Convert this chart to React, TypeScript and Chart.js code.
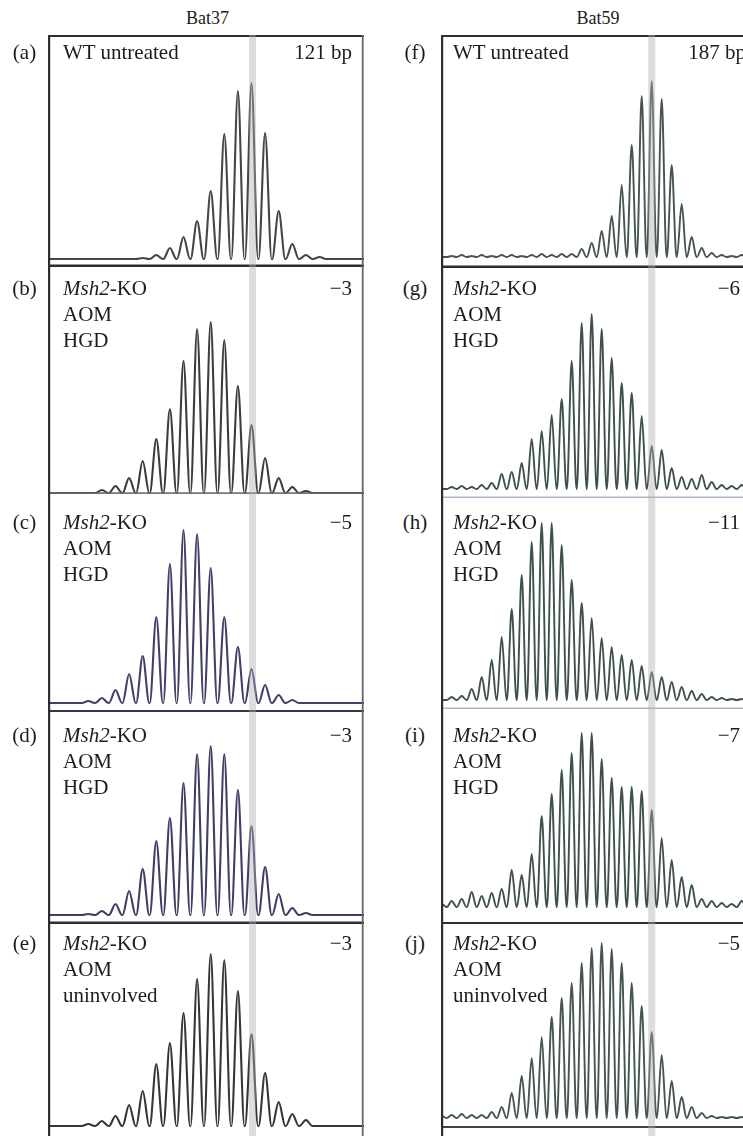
import React, { useEffect, useRef } from "react";
import { Chart, registerables } from "chart.js";

Chart.register(...registerables);

// ---------------- DATA ----------------
// Column titles (markers)
const COLUMN_TITLES = ["Bat37", "Bat59"];

// Panel letters and annotations
const PANEL_LETTERS = ["(a)", "(b)", "(c)", "(d)", "(e)", "(f)", "(g)", "(h)", "(i)", "(j)"];
const PANEL_LINES = [
  ["WT untreated"],
  ["Msh2-KO", "AOM", "HGD"],
  ["Msh2-KO", "AOM", "HGD"],
  ["Msh2-KO", "AOM", "HGD"],
  ["Msh2-KO", "AOM", "uninvolved"],
  ["WT untreated"],
  ["Msh2-KO", "AOM", "HGD"],
  ["Msh2-KO", "AOM", "HGD"],
  ["Msh2-KO", "AOM", "HGD"],
  ["Msh2-KO", "AOM", "uninvolved"],
];
const PANEL_SHIFTS = ["121 bp", "\u22123", "\u22125", "\u22123", "\u22123", "187 bp", "\u22126", "\u221211", "\u22127", "\u22125"];

// Peak heights (signal above baseline) for consecutive repeat lengths.
// *_START = repeat offset of the first peak relative to the WT allele (grey band = 0).
const A_START = -8;
const A_PEAKS = [1, 4, 11, 22, 38, 68, 125, 168, 176, 126, 48, 15, 4, 2];
const B_START = -11;
const B_PEAKS = [3, 7, 15, 32, 54, 84, 132, 164, 171, 153, 107, 68, 35, 15, 6, 2];
const C_START = -12;
const C_PEAKS = [2, 5, 13, 29, 47, 86, 139, 173, 169, 135, 86, 56, 34, 18, 8, 3];
const D_START = -12;
const D_PEAKS = [1, 4, 11, 24, 46, 74, 97, 132, 161, 169, 161, 125, 89, 48, 21, 7, 2];
const E_START = -12;
const E_PEAKS = [2, 5, 10, 21, 35, 62, 83, 113, 147, 172, 166, 135, 92, 53, 24, 12, 6];

const F_START = -20;
const F_PEAKS = [1, 2, 1, 2, 1, 2, 2, 1, 2, 3, 2, 3, 3, 8, 14, 26, 41, 72, 112, 161, 176, 158, 92, 53, 20, 9, 4, 2, 1, 2, 1];
const G_START = -20;
const G_PEAKS = [2, 3, 2, 4, 6, 15, 17, 26, 50, 58, 74, 90, 128, 166, 175, 160, 131, 106, 96, 73, 43, 39, 21, 12, 10, 14, 7, 4, 3, 4, 2];
const H_START = -20;
const H_PEAKS = [3, 4, 11, 23, 40, 63, 91, 125, 158, 177, 177, 155, 120, 97, 82, 62, 53, 45, 40, 34, 28, 23, 18, 13, 9, 6, 3, 2, 1, 1, 1];
const I_START = -21;
const I_PEAKS = [3, 6, 8, 15, 11, 14, 18, 37, 32, 53, 91, 113, 137, 154, 174, 174, 148, 129, 120, 120, 116, 97, 69, 47, 30, 22, 8, 6, 4, 3, 6, 11];
const J_START = -21;
const J_PEAKS = [2, 3, 4, 3, 3, 6, 11, 25, 42, 60, 81, 101, 120, 135, 155, 170, 175, 169, 155, 135, 112, 86, 63, 37, 21, 11, 5, 2, 1, 1, 1, 1];

const STARTS = [A_START, B_START, C_START, D_START, E_START, F_START, G_START, H_START, I_START, J_START];
const PEAKS = [A_PEAKS, B_PEAKS, C_PEAKS, D_PEAKS, E_PEAKS, F_PEAKS, G_PEAKS, H_PEAKS, I_PEAKS, J_PEAKS];

// ---------------- LAYOUT / STYLE ----------------
const COLS = [
  { canvasLeft: 48, width: 316, zeroX: 251.5, spacing: 13.6, textLeft: 63, letterLeft: 0, letterWidth: 49, rightEdge: 352, bpRight: 352, titleCenter: 207.5, rightBorder: true, bandShift: 1, lineW: 2.1 },
  { canvasLeft: 441, width: 316, zeroX: 651.7, spacing: 10, textLeft: 453, letterLeft: 393, letterWidth: 44, rightEdge: 740, bpRight: 746, titleCenter: 598, rightBorder: true, bandShift: 0, lineW: 1.9 },
];

// top, bottom (canvas), baseline, separator (page y, height, colour)
const GEOM = [
  { top: 35, bottom: 267, base: 259, sepY: 264.5, sepH: 2.5, sepC: "#2e2e2e", color: "#454545" },
  { top: 267, bottom: 494, base: 493, sepY: 492.3, sepH: 1.6, sepC: "#6a6a6a", color: "#3c3c3c" },
  { top: 494, bottom: 712, base: 703, sepY: 710, sepH: 2, sepC: "#34344a", color: "#40406a" },
  { top: 712, bottom: 924, base: 915, sepY: 921.5, sepH: 2.5, sepC: "#2e2e3a", color: "#3e3e66" },
  { top: 924, bottom: 1136, base: 1126, sepY: null, sepH: 0, sepC: "#333", color: "#363636" },
  { top: 35, bottom: 268, base: 257, sepY: 265.5, sepH: 2.5, sepC: "#2e2e2e", color: "#45574d" },
  { top: 268, bottom: 498, base: 489, sepY: 496.5, sepH: 1.5, sepC: "#b4b4c8", color: "#3e5247" },
  { top: 498, bottom: 709, base: 700, sepY: 707.5, sepH: 1.5, sepC: "#b4b4c8", color: "#3e5247" },
  { top: 709, bottom: 924, base: 907, sepY: 922, sepH: 2, sepC: "#2e2e2e", color: "#3e5247" },
  { top: 924, bottom: 1136, base: 1118, sepY: 1126, sepH: 2, sepC: "#444", color: "#45574d" },
];
const ROW_TEXT_Y = [52, 288, 522, 735, 943];
const LINE_H = 26;

const HALF_WIDTH = 0.48;

function tracePoints(start: number, peaks: number[], xmin: number, xmax: number) {
  const pts: { x: number; y: number }[] = [];
  pts.push({ x: Math.min(xmin, start - HALF_WIDTH) - 0.05, y: 0 });
  peaks.forEach((h, i) => {
    const p = start + i;
    pts.push({ x: p - HALF_WIDTH, y: 0 }, { x: p, y: h }, { x: p + HALF_WIDTH, y: 0 });
  });
  const last = start + peaks.length - 1 + HALF_WIDTH;
  pts.push({ x: Math.max(xmax, last) + 0.05, y: 0 });
  return pts;
}

const framePlugin = {
  id: "panelFrame",
  afterDatasetsDraw(chart: any, _args: any, opts: any) {
    const { ctx, width, height } = chart;
    ctx.save();
    if (opts.topBorder) {
      ctx.fillStyle = "#2e2e2e";
      ctx.fillRect(0, 0, width, 2);
    }
    if (opts.sepY != null) {
      ctx.fillStyle = opts.sepC;
      ctx.fillRect(0, opts.sepY, width, opts.sepH);
    }
    ctx.fillStyle = "#2e2e2e";
    ctx.fillRect(0, 0, 2.2, height);
    if (opts.rightBorder) {
      ctx.fillStyle = "#666";
      ctx.fillRect(width - 2.2, 0, 1.8, height);
    }
    // reference allele band (value 0 on x scale)
    const x = chart.scales.x.getPixelForValue(0) + opts.bandShift;
    ctx.fillStyle = "rgba(175,175,175,0.42)";
    ctx.fillRect(x - 3.5, 0, 7, height);
    ctx.restore();
  },
};

function Panel({ idx }: { idx: number }) {
  const ref = useRef<HTMLCanvasElement>(null);
  const col = COLS[idx < 5 ? 0 : 1];
  const g = GEOM[idx];
  const h = g.bottom - g.top;
  useEffect(() => {
    const xmin = (col.canvasLeft - col.zeroX) / col.spacing;
    const xmax = (col.canvasLeft + col.width - col.zeroX) / col.spacing;
    const chart = new Chart(ref.current as HTMLCanvasElement, {
      type: "line",
      data: {
        datasets: [
          {
            data: tracePoints(STARTS[idx], PEAKS[idx], xmin, xmax),
            borderColor: g.color,
            borderWidth: col.lineW,
            borderJoinStyle: "round",
            pointRadius: 0,
            cubicInterpolationMode: "monotone",
            fill: false,
          } as any,
        ],
      },
      options: {
        animation: false,
        responsive: false,
        events: [],
        layout: { padding: 0 },
        scales: {
          x: { type: "linear", min: xmin, max: xmax, display: false },
          y: { type: "linear", min: -(g.bottom - g.base), max: g.base - g.top, display: false },
        },
        plugins: {
          legend: { display: false },
          tooltip: { enabled: false },
          panelFrame: {
            topBorder: idx === 0 || idx === 5,
            sepY: g.sepY == null ? null : g.sepY - g.top,
            sepH: g.sepH,
            sepC: g.sepC,
            rightBorder: col.rightBorder,
            bandShift: col.bandShift,
          },
        } as any,
      },
      plugins: [framePlugin],
    });
    return () => chart.destroy();
  }, []);
  return (
    <canvas
      ref={ref}
      width={col.width}
      height={h}
      style={{ position: "absolute", left: col.canvasLeft, top: g.top, width: col.width, height: h, display: "block" }}
    />
  );
}

function LineText({ text }: { text: string }) {
  if (text.startsWith("Msh2")) {
    return (
      <span>
        <i>Msh2</i>
        {text.slice(4)}
      </span>
    );
  }
  return <span>{text}</span>;
}

export default function App() {
  const textStyle: React.CSSProperties = {
    position: "absolute",
    fontSize: 21,
    lineHeight: LINE_H + "px",
    whiteSpace: "nowrap",
  };
  return (
    <div
      style={{
        position: "absolute",
        left: 0,
        top: 0,
        width: 743,
        height: 1136,
        overflow: "hidden",
        background: "#ffffff",
        fontFamily: '"Liberation Serif", "DejaVu Serif", serif',
        color: "#1c1c1c",
      }}
    >
      {PEAKS.map((_, i) => (
        <Panel key={i} idx={i} />
      ))}
      {COLUMN_TITLES.map((t, c) => (
        <div
          key={t}
          style={{
            position: "absolute",
            left: COLS[c].titleCenter - 60,
            width: 120,
            top: 6,
            textAlign: "center",
            fontSize: 18,
            lineHeight: "24px",
          }}
        >
          {t}
        </div>
      ))}
      {PANEL_LETTERS.map((l, i) => {
        const col = COLS[i < 5 ? 0 : 1];
        const y = ROW_TEXT_Y[i % 5];
        return (
          <div key={"l" + i} style={{ ...textStyle, left: col.letterLeft, width: col.letterWidth, textAlign: "center", top: y - LINE_H / 2 }}>
            {l}
          </div>
        );
      })}
      {PANEL_LINES.map((lines, i) => {
        const col = COLS[i < 5 ? 0 : 1];
        const y = ROW_TEXT_Y[i % 5];
        return (
          <div key={"t" + i} style={{ ...textStyle, left: col.textLeft, top: y - LINE_H / 2 }}>
            {lines.map((ln, k) => (
              <div key={k}>
                <LineText text={ln} />
              </div>
            ))}
          </div>
        );
      })}
      {PANEL_SHIFTS.map((s, i) => {
        const col = COLS[i < 5 ? 0 : 1];
        const y = ROW_TEXT_Y[i % 5];
        const right = s.includes("bp") ? col.bpRight : col.rightEdge;
        return (
          <div key={"s" + i} style={{ ...textStyle, left: right - 200, width: 200, textAlign: "right", top: y - LINE_H / 2 }}>
            {s}
          </div>
        );
      })}
    </div>
  );
}
